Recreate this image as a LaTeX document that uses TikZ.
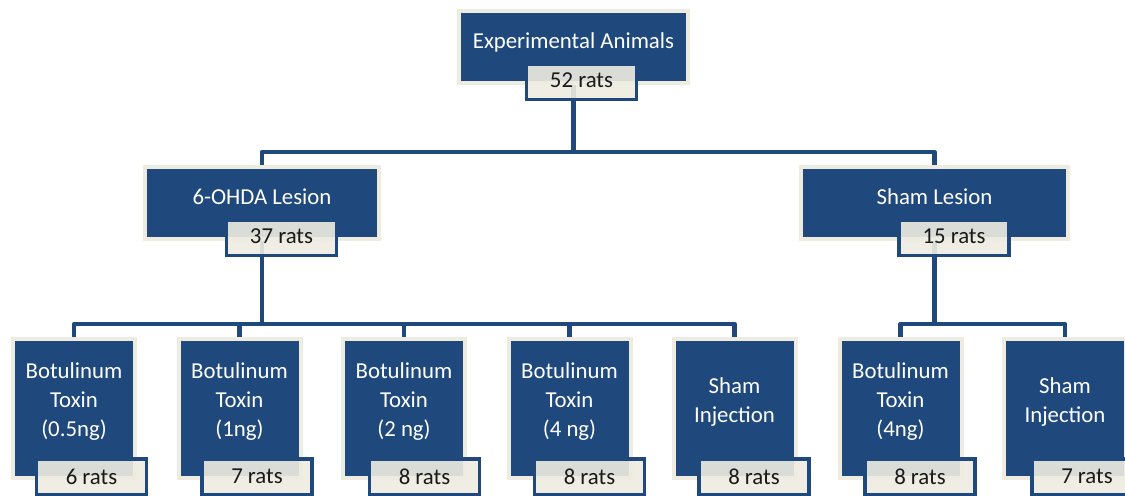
\documentclass[tikz,border=0pt]{standalone}
\usepackage{fontspec}
\setmainfont{Carlito}
\usepackage{xcolor}

\definecolor{boxblue}{HTML}{1F497D}
\definecolor{framebeige}{HTML}{EEECE1}

\begin{document}
\begin{tikzpicture}[x=0.5pt,y=-0.5pt,
  every node/.style={inner sep=0pt,font=\fontsize{11.4pt}{14.5pt}\selectfont},
  box/.style={rectangle,fill=boxblue,draw=framebeige,line width=2pt,minimum height=36pt},
  tallbox/.style={box,minimum width=61pt,minimum height=69.5pt},
  lbl/.style={rectangle,fill=framebeige,fill opacity=0.9,text opacity=1,draw=boxblue,line width=1.75pt,minimum width=55pt,minimum height=17.75pt,text=black!90},
  txt/.style={text=white,align=center},
  conn/.style={draw=boxblue,line width=2.25pt,line join=round}]
\useasboundingbox (0,0) rectangle (1125,495);
\clip (0,0) rectangle (1125,495);
% boxes
\node (top) at (573.5,47) [box,minimum width=114.5pt] {};
\node (ohda) at (262,203) [box,minimum width=117pt] {};
\node (sham) at (934.5,203) [box,minimum width=133.5pt] {};
\node (bt1) at (74,408.5) [tallbox] {};
\node (bt2) at (239.5,408.5) [tallbox] {};
\node (bt3) at (404,408.5) [tallbox] {};
\node (bt4) at (569.5,408.5) [tallbox] {};
\node (si1) at (734.5,408.5) [tallbox] {};
\node (bt5) at (900.5,408.5) [tallbox] {};
\node (si2) at (1065,408.5) [tallbox] {};
% connectors
\draw[conn] (top.south) -- ++(0,67) -| (ohda.north);
\draw[conn] (top.south) -- ++(0,67) -| (sham.north);
\draw[conn] (ohda.south) -- ++(0,83) -| (bt1.north);
\draw[conn] (ohda.south) -- ++(0,83) -| (bt2.north);
\draw[conn] (ohda.south) -- ++(0,83) -| (bt3.north);
\draw[conn] (ohda.south) -- ++(0,83) -| (bt4.north);
\draw[conn] (ohda.south) -- ++(0,83) -| (si1.north);
\draw[conn] (sham.south) -- ++(0,83) -| (bt5.north);
\draw[conn] (sham.south) -- ++(0,83) -| (si2.north);
% counts
\node (ntop) at (581.5,81.5) [lbl] {\raisebox{1.5pt}{52 rats}};
\node (nohda) at (281.5,237.5) [lbl] {\raisebox{1.5pt}{37 rats}};
\node (nsham) at (954,237.5) [lbl] {\raisebox{1.5pt}{15 rats}};
\node (n1) at (91.5,476.5) [lbl] {6 rats};
\node (n2) at (257,476.5) [lbl] {7 rats};
\node (n3) at (424.5,476.5) [lbl] {8 rats};
\node (n4) at (589.5,476.5) [lbl] {8 rats};
\node (n5) at (754,476.5) [lbl] {8 rats};
\node (n6) at (920,476.5) [lbl] {8 rats};
\node (n7) at (1087,476.5) [lbl] {7 rats};
% texts
\node (ttop) at (573.5,42) [txt] {Experimental Animals};
\node (tohda) at (262,197) [txt] {6-OHDA Lesion};
\node (tsham) at (934.5,197) [txt] {Sham Lesion};
\node (t1) at (74,402) [txt] {Botulinum\\Toxin\\(0.5ng)};
\node (t2) at (239.5,402) [txt] {Botulinum\\Toxin\\(1ng)};
\node (t3) at (404,402) [txt] {Botulinum\\Toxin\\(2 ng)};
\node (t4) at (569.5,402) [txt] {Botulinum\\Toxin\\(4 ng)};
\node (t5) at (734.5,402) [txt] {Sham\\Injection};
\node (t6) at (900.5,402) [txt] {Botulinum\\Toxin\\(4ng)};
\node (t7) at (1065,402) [txt] {Sham\\Injection};
\end{tikzpicture}
\end{document}
